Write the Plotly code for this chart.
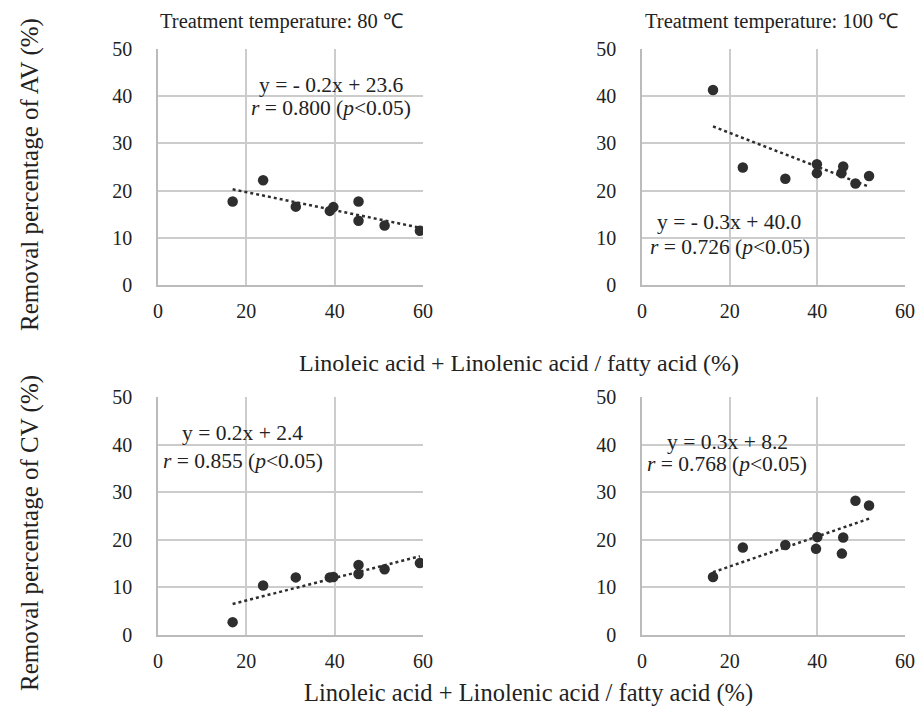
import numpy as np
import plotly.graph_objects as go

# ---- data ----
x_80 = [16.9, 23.8, 31.2, 38.9, 39.7, 45.4, 45.4, 51.3, 59.3]
av_80 = [17.7, 22.2, 16.6, 15.7, 16.5, 17.7, 13.6, 12.6, 11.5]
cv_80 = [2.7, 10.4, 12.1, 12.1, 12.2, 14.7, 12.8, 13.8, 15.1]

x_100 = [16.2, 23.0, 32.7, 39.9, 39.9, 45.9, 45.5, 48.7, 51.8]
av_100 = [41.3, 24.9, 22.5, 25.6, 23.7, 25.1, 23.7, 21.5, 23.1]
x_100_cv = [16.2, 23.0, 32.7, 40.0, 39.7, 45.9, 45.6, 48.7, 51.8]
cv_100 = [12.2, 18.4, 18.9, 20.6, 18.1, 20.5, 17.1, 28.2, 27.2]

titles = ["Treatment temperature: 80 \u2103", "Treatment temperature: 100 \u2103"]
eq_lines = [
    ("y = - 0.2x + 23.6", "<i>r</i> = 0.800 (<i>p</i><0.05)"),
    ("y = - 0.3x + 40.0", "<i>r</i> = 0.726 (<i>p</i><0.05)"),
    ("y = 0.2x + 2.4", "<i>r</i> = 0.855 (<i>p</i><0.05)"),
    ("y = 0.3x + 8.2", "<i>r</i> = 0.768 (<i>p</i><0.05)"),
]
ytitle_av = "Removal percentage of AV (%)"
ytitle_cv = "Removal percentage of CV (%)"
xtitle = "Linoleic acid + Linolenic acid / fatty acid (%)"

W, H = 917, 706
FONT = "Liberation Serif"
GRID = "#cccccc"
DOT = "#2e2e2e"
TXT = "#222222"

panels = [
    (x_80, av_80, "x", "y"),
    (x_100, av_100, "x2", "y2"),
    (x_80, cv_80, "x3", "y3"),
    (x_100_cv, cv_100, "x4", "y4"),
]

fig = go.Figure()
for xs, ys, xa, ya in panels:
    xs_a = np.array(xs)
    ys_a = np.array(ys)
    k, b = np.polyfit(xs_a, ys_a, 1)
    xl = np.array([xs_a.min(), xs_a.max()])
    fig.add_trace(go.Scatter(x=xl, y=k * xl + b, mode="lines",
                             line=dict(color=DOT, width=2.5, dash="dot"),
                             xaxis=xa, yaxis=ya, showlegend=False, hoverinfo="skip"))
    fig.add_trace(go.Scatter(x=xs, y=ys, mode="markers",
                             marker=dict(color=DOT, size=10.5, line=dict(width=0)),
                             xaxis=xa, yaxis=ya, showlegend=False))

# panel pixel boxes (left, right, top, bottom)
boxes = [(158, 423, 49, 285), (642, 905, 49, 285), (158, 423, 397, 635), (642, 905, 397, 635)]
layout = {}
for i, (l, r, t, btm) in enumerate(boxes):
    sfx = "" if i == 0 else str(i + 1)
    common = dict(showgrid=True, gridcolor=GRID, gridwidth=1.5, showline=True,
                  linecolor="#bbbbbb", linewidth=1.5, zeroline=False, automargin=False,
                  tickfont=dict(family=FONT, size=20, color=TXT),
                  ticks="", fixedrange=True)
    layout["xaxis" + sfx] = dict(common, domain=[l / W, r / W], range=[0, 60],
                                 dtick=20, anchor="y" + sfx, ticklabelstandoff=7)
    layout["yaxis" + sfx] = dict(common, domain=[1 - btm / H, 1 - t / H], range=[0, 50],
                                 dtick=10, anchor="x" + sfx, ticklabelstandoff=20)

ann = []
C = dict(xanchor="center", yanchor="middle", showarrow=False)
# titles
ann.append(dict(C, text=titles[0], x=281 / W, y=1 - 22 / H, xref="paper", yref="paper",
                font=dict(family=FONT, size=20.5, color=TXT)))
ann.append(dict(C, text=titles[1], x=771 / W, y=1 - 22 / H, xref="paper", yref="paper",
                font=dict(family=FONT, size=20.5, color=TXT)))
# axis titles
ann.append(dict(C, text=ytitle_av, x=30 / W, y=1 - 175 / H, xref="paper", yref="paper",
                textangle=-90, font=dict(family=FONT, size=25, color=TXT)))
ann.append(dict(C, text=ytitle_cv, x=30 / W, y=1 - 533 / H, xref="paper", yref="paper",
                textangle=-90, font=dict(family=FONT, size=25, color=TXT)))
ann.append(dict(C, text=xtitle, x=519 / W, y=1 - 363 / H, xref="paper", yref="paper",
                font=dict(family=FONT, size=24, color=TXT)))
ann.append(dict(C, text=xtitle, x=528 / W, y=1 - 693 / H, xref="paper", yref="paper",
                font=dict(family=FONT, size=24.5, color=TXT)))
# equations (data coords)
eq_pos = [((39.3, 42.4), (39.1, 37.5)), ((19.9, 13.4), (20.1, 8.1)),
          ((19.2, 42.4), (19.3, 36.6)), ((19.5, 40.6), (19.3, 36.0))]
for i, ((l1, l2), (p1, p2)) in enumerate(zip(eq_lines, eq_pos)):
    sfx = "" if i == 0 else str(i + 1)
    for txt, (px, py) in ((l1, p1), (l2, p2)):
        ann.append(dict(C, text=txt, x=px, y=py, xref="x" + sfx, yref="y" + sfx,
                        font=dict(family=FONT, size=21.5, color=TXT)))

fig.update_layout(**layout)
fig.update_layout(template="none", width=W, height=H, margin=dict(l=0, r=0, t=0, b=0),
                  font=dict(family=FONT, color=TXT),
                  paper_bgcolor="white", plot_bgcolor="white", annotations=ann)
fig.write_html("out.html")
